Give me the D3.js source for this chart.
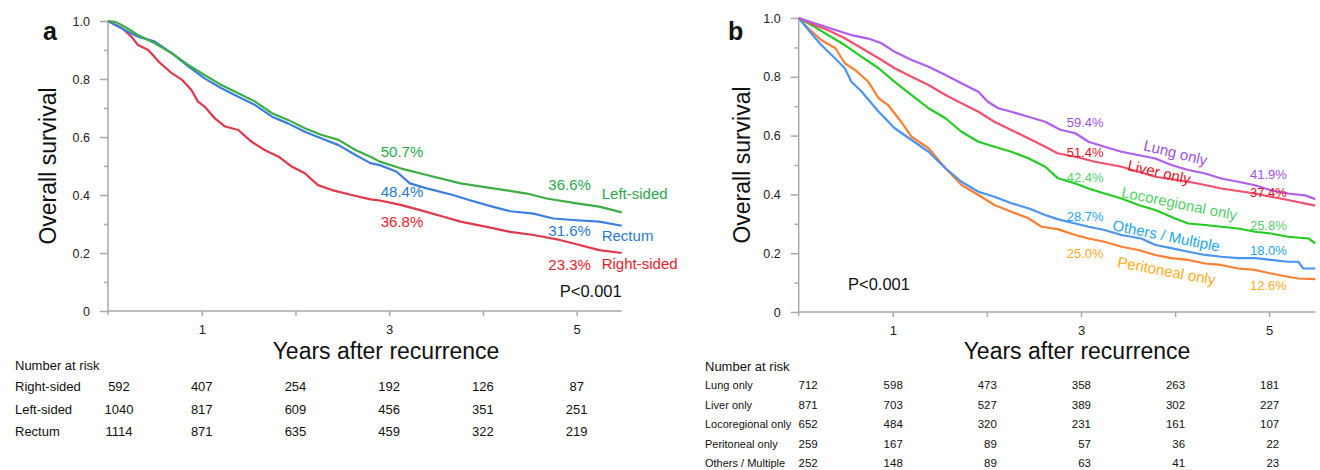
<!DOCTYPE html>
<html>
<head>
<meta charset="utf-8">
<script src="https://cdn.jsdelivr.net/npm/d3@7"></script>
<style>
  body { margin: 0; background: #fff; }
  svg text { font-family: Arial, "Liberation Sans", sans-serif; }
</style>
</head>
<body>
<svg id="chart" width="1320" height="470"></svg>
<script>
// panel a: overall survival by primary site, [years, survival]
const rightSided = [[0,1],[0.15,0.975],[0.25,0.946],[0.32,0.917],[0.43,0.9],[0.54,0.86],[0.68,0.82],[0.79,0.797],
  [0.89,0.762],[0.96,0.722],[1.03,0.705],[1.14,0.664],[1.25,0.636],[1.39,0.624],[1.53,0.584],[1.67,0.555],
  [1.82,0.532],[1.96,0.498],[2.1,0.475],[2.24,0.434],[2.39,0.417],[2.6,0.4],[2.8,0.385],[2.9,0.381],
  [3.12,0.366],[3.33,0.348],[3.58,0.325],[3.76,0.308],[4.04,0.29],[4.29,0.273],[4.54,0.262],[4.82,0.245],
  [5.0,0.23],[5.24,0.21],[5.48,0.2]]
const leftSided = [[0,1],[0.08,0.997],[0.18,0.98],[0.32,0.952],[0.5,0.923],[0.68,0.889],[0.86,0.848],[1.03,0.814],
  [1.21,0.779],[1.39,0.751],[1.57,0.722],[1.75,0.682],[1.92,0.659],[2.1,0.63],[2.28,0.607],[2.46,0.59],
  [2.64,0.555],[2.8,0.532],[2.9,0.515],[3.12,0.492],[3.4,0.469],[3.76,0.44],[4.11,0.423],[4.47,0.405],
  [4.68,0.388],[5.0,0.371],[5.24,0.36],[5.48,0.34]]
const rectum = [[0,1],[0.18,0.969],[0.32,0.946],[0.5,0.929],[0.68,0.889],[0.86,0.843],[1.03,0.802],[1.21,0.768],
  [1.39,0.739],[1.57,0.71],[1.75,0.67],[1.92,0.647],[2.1,0.618],[2.28,0.595],[2.46,0.572],[2.64,0.538],
  [2.8,0.51],[2.9,0.503],[3.08,0.48],[3.22,0.44],[3.4,0.423],[3.68,0.4],[3.86,0.382],[4.11,0.359],
  [4.29,0.344],[4.54,0.336],[4.75,0.319],[5.0,0.313],[5.24,0.308],[5.48,0.294]]

// panel b: overall survival by recurrence pattern
const lungOnly = [[0,1],[0.17,0.982],[0.39,0.959],[0.56,0.942],[0.74,0.93],[0.88,0.914],[1.02,0.885],[1.2,0.857],
  [1.38,0.834],[1.56,0.806],[1.73,0.778],[1.91,0.749],[2.01,0.715],[2.12,0.693],[2.26,0.681],[2.44,0.664],
  [2.62,0.647],[2.78,0.62],[2.94,0.608],[3.08,0.579],[3.25,0.562],[3.43,0.545],[3.79,0.522],[3.96,0.5],
  [4.14,0.483],[4.32,0.471],[4.49,0.454],[4.67,0.443],[4.85,0.431],[5.02,0.414],[5.2,0.403],[5.38,0.397],[5.49,0.384]]
const liverOnly = [[0,1],[0.17,0.976],[0.31,0.959],[0.49,0.931],[0.67,0.897],[0.85,0.863],[1.02,0.829],[1.2,0.8],
  [1.38,0.772],[1.56,0.738],[1.73,0.71],[1.91,0.681],[2.08,0.647],[2.26,0.619],[2.44,0.591],[2.62,0.562],
  [2.75,0.54],[2.94,0.528],[3.15,0.511],[3.43,0.494],[3.61,0.477],[3.79,0.46],[4.14,0.443],[4.32,0.432],
  [4.49,0.42],[4.85,0.403],[5.02,0.392],[5.2,0.381],[5.49,0.362]]
const locoOnly = [[0,1],[0.17,0.97],[0.31,0.942],[0.49,0.908],[0.67,0.868],[0.85,0.829],[1.02,0.783],[1.2,0.738],
  [1.38,0.693],[1.56,0.659],[1.73,0.613],[1.91,0.579],[2.08,0.562],[2.26,0.545],[2.44,0.523],[2.62,0.494],
  [2.75,0.456],[2.94,0.437],[3.08,0.42],[3.25,0.403],[3.43,0.386],[3.61,0.364],[3.79,0.347],[4.0,0.318],
  [4.14,0.301],[4.32,0.296],[4.49,0.29],[4.67,0.284],[4.85,0.273],[5.02,0.267],[5.2,0.256],[5.42,0.25],[5.49,0.233]]
const peritonealOnly = [[0,1],[0.1,0.965],[0.24,0.925],[0.39,0.897],[0.49,0.846],[0.6,0.823],[0.74,0.783],[0.85,0.727],
  [0.95,0.704],[1.09,0.647],[1.2,0.596],[1.38,0.557],[1.56,0.489],[1.73,0.432],[1.91,0.398],[2.08,0.364],
  [2.26,0.341],[2.44,0.319],[2.58,0.29],[2.75,0.282],[2.94,0.262],[3.08,0.25],[3.25,0.239],[3.43,0.222],
  [3.61,0.211],[3.79,0.194],[3.96,0.183],[4.14,0.177],[4.32,0.165],[4.49,0.16],[4.67,0.148],[4.85,0.143],
  [5.02,0.131],[5.2,0.12],[5.31,0.114],[5.49,0.112]]
const othersMultiple = [[0,1],[0.12,0.953],[0.24,0.908],[0.35,0.874],[0.49,0.829],[0.56,0.783],[0.67,0.749],[0.85,0.681],
  [1.02,0.625],[1.2,0.585],[1.38,0.545],[1.56,0.489],[1.73,0.443],[1.91,0.409],[2.08,0.392],[2.26,0.37],
  [2.44,0.353],[2.62,0.33],[2.75,0.316],[2.94,0.301],[3.08,0.29],[3.25,0.279],[3.43,0.262],[3.64,0.25],
  [3.79,0.228],[3.96,0.217],[4.14,0.205],[4.32,0.194],[4.49,0.188],[4.67,0.183],[4.85,0.183],[5.02,0.177],
  [5.2,0.171],[5.31,0.171],[5.36,0.148],[5.49,0.148]]

// number at risk at years 0..5
const riskYears = [0, 1, 2, 3, 4, 5]
const riskNamesA = ["Right-sided", "Left-sided", "Rectum"]
const riskA = [[592,407,254,192,126,87], [1040,817,609,456,351,251], [1114,871,635,459,322,219]]
const riskNamesB = ["Lung only", "Liver only", "Locoregional only", "Peritoneal only", "Others / Multiple"]
const riskB = [[712,598,473,358,263,181], [871,703,527,389,302,227], [652,484,320,231,161,107],
  [259,167,89,57,36,22], [252,148,89,63,41,23]]

const yMajor = [0, 0.2, 0.4, 0.6, 0.8, 1]
const yMinor = [0.1, 0.3, 0.5, 0.7, 0.9]
const xTicks = [1, 2, 3, 4, 5]

const svg = d3.select("#chart")

function drawPanel(p) {
  const x = d3.scaleLinear().domain([0, p.xMax]).range([p.x0, p.x1])
  const y = d3.scaleLinear().domain([0, 1]).range([p.yBottom, p.yTop])
  const g = svg.append("g")

  const yAxis = g.append("g").attr("transform", `translate(${p.x0},0)`)
                 .call(d3.axisLeft(y).tickValues(yMajor).tickSize(8).tickPadding(10)
                         .tickFormat(d => d === 0 ? "0" : d3.format(".1f")(d)))
  const yMinorAxis = g.append("g").attr("transform", `translate(${p.x0},0)`)
                      .call(d3.axisLeft(y).tickValues(yMinor).tickSize(4).tickFormat(""))
  const xAxis = g.append("g").attr("transform", `translate(0,${p.yBottom})`)
                 .call(d3.axisBottom(x).tickValues(xTicks).tickSize(5).tickPadding(9)
                         .tickFormat(d => d % 2 ? d : ""))

  for (const a of [yAxis, yMinorAxis, xAxis]) {
    a.select(".domain").remove()
    a.selectAll("line").attr("stroke", "#a9a9a9").attr("stroke-width", 1.5)
    a.selectAll("text").attr("fill", "#222")
  }
  yAxis.selectAll("text").attr("font-size", 12.5)
  xAxis.selectAll("text").attr("font-size", 13)

  // axis lines, y runs a little past the origin
  g.append("line").attr("x1", p.x0).attr("x2", p.x0).attr("y1", y(1)).attr("y2", y(0) + 4)
   .attr("stroke", "#a9a9a9").attr("stroke-width", 1.5)
  g.append("line").attr("x1", p.x0).attr("x2", x(p.xMax)).attr("y1", y(0)).attr("y2", y(0))
   .attr("stroke", "#a9a9a9").attr("stroke-width", 1.5)

  const line = d3.line().x(d => x(d[0])).y(d => y(d[1]))
  g.append("g").selectAll("path")
   .data(p.series)
   .join("path")
     .attr("d", d => line(d.values))
     .attr("fill", "none")
     .attr("stroke", d => d.color)
     .attr("stroke-width", 2.2)
     .attr("stroke-linejoin", "round")

  g.append("text").attr("x", p.letterX).attr("y", 40).attr("font-size", 25)
   .attr("font-weight", "bold").attr("fill", "#111").text(p.letter)

  g.append("text").attr("transform", `translate(${p.yTitleX},${(y(0) + y(1)) / 2}) rotate(-90)`)
   .attr("text-anchor", "middle").attr("font-size", 23).attr("fill", "#111").text("Overall survival")
  g.append("text").attr("x", p.xTitleX).attr("y", 359).attr("text-anchor", "middle")
   .attr("font-size", 23).attr("fill", "#111").text("Years after recurrence")

  g.append("g").selectAll("text")
   .data(p.labels)
   .join("text")
     .attr("transform", d => `translate(${d.x},${d.y}) rotate(${d.rot || 0})`)
     .attr("text-anchor", d => d.anchor || "start")
     .attr("font-size", d => d.size)
     .attr("fill", d => d.color)
     .text(d => d.text)

  // number at risk table
  g.append("text").attr("x", p.tableX).attr("y", p.tableTitleY).attr("font-size", 13)
   .attr("fill", "#111").text("Number at risk")
  p.riskNames.forEach((name, i) => {
    const rowY = p.rowY[i]
    g.append("text").attr("x", p.tableX).attr("y", rowY).attr("font-size", p.rowFont)
     .attr("fill", "#111").text(name)
    g.append("g").selectAll("text")
     .data(p.risk[i])
     .join("text")
       .attr("x", (d, j) => x(riskYears[j]) + (j === 0 ? p.firstColOffset : p.colOffset))
       .attr("y", rowY)
       .attr("text-anchor", p.numAnchor)
       .attr("font-size", p.numFont)
       .attr("fill", "#111")
       .text(d => d)
  })
}

drawPanel({
  letter: "a", letterX: 43,
  x0: 108, x1: 621.7, xMax: 5.48, yBottom: 311, yTop: 21,
  yTitleX: 56, xTitleX: 386,
  series: [
    { values: rightSided, color: "#e0384a" },
    { values: rectum, color: "#3b7ee0" },
    { values: leftSided, color: "#3cae43" }
  ],
  labels: [
    { text: "50.7%", x: 380.7, y: 156.7, size: 15, color: "#2aa84a" },
    { text: "48.4%", x: 380.7, y: 196.7, size: 15, color: "#2a7ad2" },
    { text: "36.8%", x: 380.7, y: 226.7, size: 15, color: "#e8202a" },
    { text: "36.6%", x: 548.3, y: 190, size: 15, color: "#2aa84a" },
    { text: "31.6%", x: 548.3, y: 235.7, size: 15, color: "#2a7ad2" },
    { text: "23.3%", x: 548.3, y: 270, size: 15, color: "#e8202a" },
    { text: "Left-sided", x: 601.7, y: 198.7, size: 15, color: "#2aa84a" },
    { text: "Rectum", x: 601.7, y: 240.7, size: 15, color: "#2a7ad2" },
    { text: "Right-sided", x: 601.7, y: 269, size: 15, color: "#e8202a" },
    { text: "P<0.001", x: 621.7, y: 296.7, size: 16.5, color: "#111", anchor: "end" }
  ],
  tableX: 15, tableTitleY: 369.5, rowY: [391, 413.5, 436],
  riskNames: riskNamesA, risk: riskA,
  rowFont: 13, numFont: 13, numAnchor: "middle", firstColOffset: 11, colOffset: 0
})

drawPanel({
  letter: "b", letterX: 728,
  x0: 798.7, x1: 1315.3, xMax: 5.49, yBottom: 312, yTop: 18,
  yTitleX: 750, xTitleX: 1077,
  series: [
    { values: peritonealOnly, color: "#ff7f30" },
    { values: othersMultiple, color: "#4a94f5" },
    { values: locoOnly, color: "#22cc22" },
    { values: liverOnly, color: "#f4506e" },
    { values: lungOnly, color: "#b05cf5" }
  ],
  labels: [
    { text: "59.4%", x: 1066.7, y: 126.7, size: 13, color: "#a050e8" },
    { text: "51.4%", x: 1066.7, y: 156.7, size: 13, color: "#e8101e" },
    { text: "42.4%", x: 1066.7, y: 181.7, size: 13, color: "#55d06a" },
    { text: "28.7%", x: 1066.7, y: 221, size: 13, color: "#1ea6f0" },
    { text: "25.0%", x: 1066.7, y: 258.3, size: 13, color: "#ffac22" },
    { text: "41.9%", x: 1250, y: 179.3, size: 13, color: "#a050e8" },
    { text: "37.4%", x: 1250, y: 196.7, size: 13, color: "#e8101e" },
    { text: "25.8%", x: 1250, y: 230, size: 13, color: "#55d06a" },
    { text: "18.0%", x: 1250, y: 255, size: 13, color: "#1ea6f0" },
    { text: "12.6%", x: 1250, y: 290, size: 13, color: "#ffac22" },
    { text: "Lung only", x: 1142.7, y: 150, rot: 14, size: 15, color: "#a050e8" },
    { text: "Liver only", x: 1126.7, y: 170, rot: 13, size: 15, color: "#e8101e" },
    { text: "Locoregional only", x: 1120.7, y: 197, rot: 11.5, size: 15, color: "#55d06a" },
    { text: "Others / Multiple", x: 1111.7, y: 230, rot: 11.5, size: 15, color: "#1ea6f0" },
    { text: "Peritoneal only", x: 1116.7, y: 267, rot: 10.5, size: 15, color: "#ffac22" },
    { text: "P<0.001", x: 848, y: 290, size: 16.5, color: "#111" }
  ],
  tableX: 705, tableTitleY: 371, rowY: [389, 408.5, 428, 447.5, 467],
  riskNames: riskNamesB, risk: riskB,
  rowFont: 11, numFont: 11.5, numAnchor: "end", firstColOffset: 19, colOffset: 10
})
</script>
</body>
</html>
